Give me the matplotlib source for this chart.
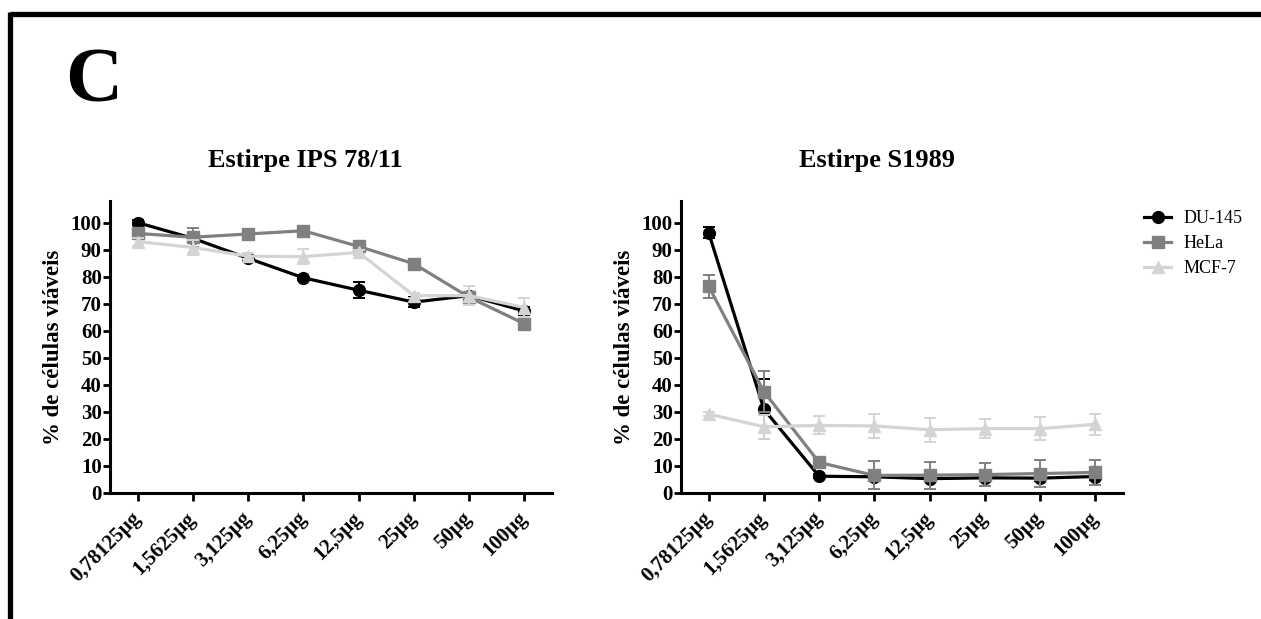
import numpy as np
import matplotlib.pyplot as plt
from matplotlib.lines import Line2D

plt.rcParams['font.family'] = ['Liberation Serif', 'DejaVu Serif']

doses = ['0,78125µg', '1,5625µg', '3,125µg', '6,25µg', '12,5µg', '25µg', '50µg', '100µg']
lines = ['DU-145', 'HeLa', 'MCF-7']

# Estirpe IPS 78/11
ips_du = [100.0, 94.2, 86.8, 79.6, 75.0, 70.6, 73.0, 67.3]
ips_du_err = [0.8, 1.0, 1.0, 0.8, 3.0, 1.8, 1.5, 1.5]
ips_hela = [96.0, 94.6, 95.8, 97.0, 91.2, 84.8, 72.4, 62.6]
ips_hela_err = [1.0, 3.5, 0.8, 0.8, 0.8, 0.8, 1.5, 0.8]
ips_mcf = [93.0, 90.8, 87.6, 87.4, 89.0, 73.0, 73.0, 68.6]
ips_mcf_err = [1.5, 2.8, 1.0, 2.8, 1.0, 1.0, 3.5, 3.5]

# Estirpe S1989
s_du = [96.3, 31.0, 6.2, 6.0, 5.3, 5.6, 5.5, 6.1]
s_du_err = [1.9, 11.0, 0.8, 1.0, 1.0, 1.0, 1.0, 1.2]
s_hela = [76.5, 37.5, 11.3, 6.5, 6.6, 6.8, 7.2, 7.6]
s_hela_err = [4.3, 7.5, 1.0, 5.2, 5.0, 4.3, 5.0, 4.5]
s_mcf = [29.2, 24.5, 25.0, 24.8, 23.4, 23.8, 23.8, 25.4]
s_mcf_err = [0.8, 4.5, 3.3, 4.3, 4.5, 3.4, 4.2, 4.0]

colors = ['black', '#808080', '#d4d4d4']
markers = ['o', 's', '^']

W, H = 1261, 619
fig = plt.figure(figsize=(W / 100, H / 100), dpi=100)

# frame lines of the panel
fig.add_artist(Line2D([9.5 / W, 1.0], [1 - 14 / H, 1 - 14 / H], transform=fig.transFigure,
                      color='black', lw=3.8, solid_capstyle='butt'))
fig.add_artist(Line2D([9.5 / W, 9.5 / W], [0, 1 - 11.5 / H], transform=fig.transFigure,
                      color='black', lw=3.8, solid_capstyle='butt'))

fig.text(94 / W, 1 - 102 / H, 'C', fontsize=57, fontweight='bold', ha='center', va='baseline')

ax1 = fig.add_axes([110 / W, 1 - 493 / H, 442 / W, 292 / H])
ax2 = fig.add_axes([681 / W, 1 - 493 / H, 442 / W, 292 / H])

x = np.arange(len(doses))
panels = [
    (ax1, 'Estirpe IPS 78/11', 305, [ips_du, ips_hela, ips_mcf], [ips_du_err, ips_hela_err, ips_mcf_err]),
    (ax2, 'Estirpe S1989', 877, [s_du, s_hela, s_mcf], [s_du_err, s_hela_err, s_mcf_err]),
]

for ax, title, tx, vals, errs in panels:
    for i in range(3):
        ax.errorbar(x, vals[i], yerr=errs[i], color=colors[i], marker=markers[i],
                    markersize=8.5, lw=2.3, elinewidth=1.4, capsize=4, capthick=1.4,
                    zorder=3 + i, clip_on=False)
    ax.set_xlim(-0.5, 7.5)
    ax.set_ylim(0, 108)
    ax.set_yticks(np.arange(0, 101, 10))
    ax.set_xticks(x)
    ax.set_xticklabels(doses, rotation=45, ha='right', va='center', rotation_mode='anchor',
                       fontsize=15, fontweight='bold')
    for lab in ax.get_yticklabels():
        lab.set_fontsize(15)
        lab.set_fontweight('bold')
    ax.spines['top'].set_visible(False)
    ax.spines['right'].set_visible(False)
    ax.spines['left'].set_linewidth(2.2)
    ax.spines['bottom'].set_linewidth(2.2)
    ax.tick_params(axis='y', length=5, width=2, pad=1)
    ax.tick_params(axis='x', length=6, width=2, pad=10)
    ax.set_ylabel('% de células viáveis', fontsize=16.5, fontweight='bold', labelpad=5)
    fig.text(tx / W, 1 - 167 / H, title, fontsize=19, fontweight='bold', ha='center', va='baseline')

handles = [Line2D([], [], color=colors[i], marker=markers[i], markersize=8.5, lw=2.3)
           for i in range(3)]
fig.legend(handles, lines, loc='upper left', bbox_to_anchor=(1144 / W, 1 - 210 / H),
           frameon=False, fontsize=13, handlelength=1.5, handletextpad=0.7,
           labelspacing=0.45, borderpad=0, borderaxespad=0)

fig.savefig('out.png', dpi=100)
